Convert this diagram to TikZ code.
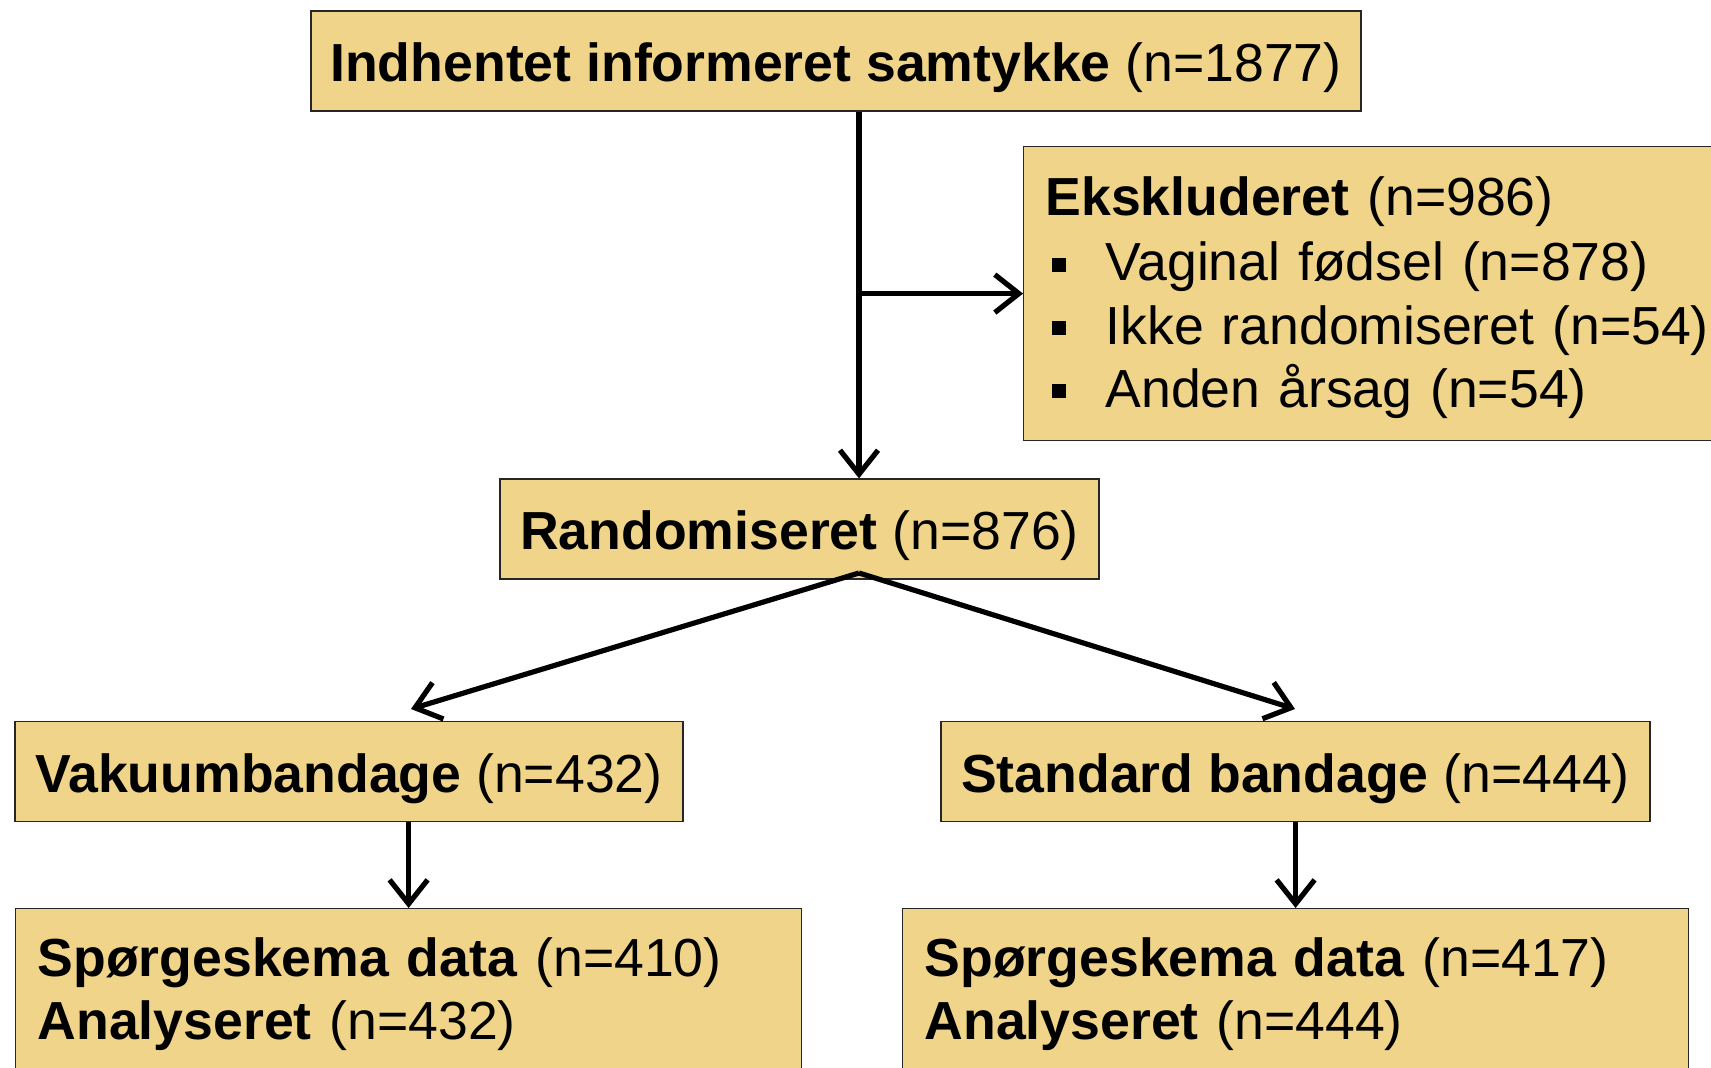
\documentclass[tikz,border=0pt]{standalone}
\usepackage{fontspec}
\setmainfont{Liberation Sans}
\usetikzlibrary{arrows.meta}
\definecolor{boxfill}{RGB}{239,212,137}
\newcommand{\sqitem}{\makebox[30pt][l]{\hspace{3pt}\rule[4.6pt]{7pt}{7pt}}}
\tikzset{
    flowbox/.style={draw=black!85, line width=0.6pt, fill=boxfill, inner sep=0pt,
        font=\fontsize{26.8}{31.6}\selectfont},
    onebox/.style={flowbox, minimum height=50pt, text height=27pt, text depth=6pt},
    listbox/.style={flowbox, anchor=north west, align=left, inner xsep=11pt},
    flow/.style={line width=2.6pt,
        -{Straight Barb[length=12pt, width=19pt, line width=2.6pt]}}
}

\begin{document}
\begin{tikzpicture}[x=0.5pt, y=-0.5pt]
    \useasboundingbox (0,0) rectangle (1711,1068);

    \node [onebox, minimum width=525pt] (consent) at (836,61)
        {\textbf{Indhentet informeret samtykke} (n=1877)};

    \node [listbox, minimum height=147pt, text width=340pt] (excl) at (1023,146)
        {\rule{0pt}{23.5pt}\textbf{Ekskluderet} (n=986)\\[1pt]
         \sqitem Vaginal fødsel (n=878)\\
         \sqitem Ikke randomiseret (n=54)\\
         \sqitem Anden årsag (n=54)};

    \node [onebox, minimum width=299.5pt] (rand) at (799.5,529)
        {\textbf{Randomiseret} (n=876)};

    \node [onebox, minimum width=334pt] (vac) at (349,771.5)
        {\textbf{Vakuumbandage} (n=432)};
    \node [onebox, minimum width=354.5pt] (std) at (1295.5,771.5)
        {\textbf{Standard bandage} (n=444)};

    \node [listbox, inner ysep=14.6pt, text width=371pt] (vacdata) at (15,908)
        {\textbf{Spørgeskema data} (n=410)\\
         \textbf{Analyseret} (n=432)};
    \node [listbox, inner ysep=14.6pt, text width=371pt] (stddata) at (902,908)
        {\textbf{Spørgeskema data} (n=417)\\
         \textbf{Analyseret} (n=444)};

    \coordinate (split) at (859,573);
    \coordinate (vacend) at (411,709);
    \coordinate (stdend) at (1295,709);

    \draw [flow] (consent.south -| split) -- (rand.north -| split);
    \draw [flow] (excl.west -| split) -- (excl.west);
    \draw [flow] (split) -- (vacend);
    \draw [flow] (split) -- (stdend);
    \draw [flow] (vac.south -| vacdata.north) -- (vacdata.north);
    \draw [flow] (std.south -| stddata.north) -- (stddata.north);
\end{tikzpicture}
\end{document}
